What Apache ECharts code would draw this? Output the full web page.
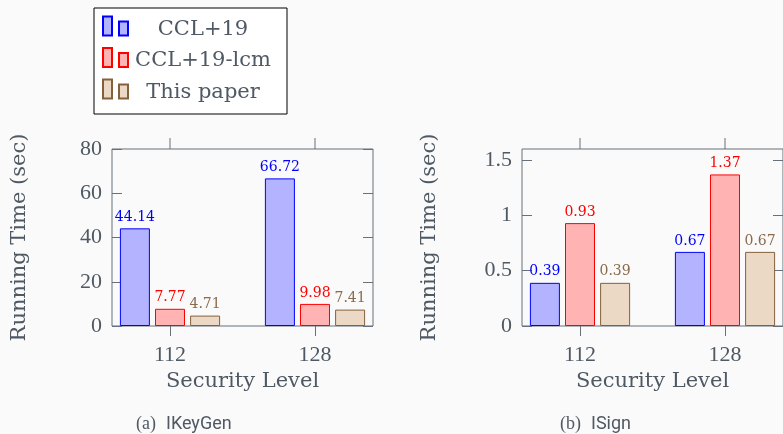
<!DOCTYPE html>
<html>
<head>
<meta charset="utf-8">
<script src="https://cdn.jsdelivr.net/npm/echarts@6/dist/echarts.min.js"></script>
<style>
  html, body { margin: 0; padding: 0; background: #fafafa; }
  #main { width: 783px; height: 434px; }
</style>
</head>
<body>
<div id="main"></div>
<script>
// security levels on the x axis
var levels = ['112', '128']
var seriesNames = ['CCL+19', 'CCL+19-lcm', 'This paper']

// IKeyGen running times (sec)
var keygenCCL = [44.14, 66.72]
var keygenLcm = [7.77, 9.98]
var keygenOurs = [4.71, 7.41]
var keygenTicks = [0, 20, 40, 60, 80]
var keygenMax = 80

// ISign running times (sec)
var signCCL = [0.39, 0.67]
var signLcm = [0.93, 1.37]
var signOurs = [0.39, 0.67]
var signTicks = [0, 0.5, 1, 1.5]
var signMax = 1.6

var textColor = '#4f5964'
var frameColor = '#66717b'
var fills = ['#b3b3ff', '#ffb3b3', '#ebd9c5']
var borders = ['#0000ff', '#ff0000', '#85603c']
var labelColors = ['#0000ff', '#ff0000', '#8a6a4a']

var chart = echarts.init(document.getElementById('main'))

function pairs(vals) {
    return vals.map(function (v, i) { return [i, v] })
}

function xAxis(g) {
    return {
        gridIndex: g, type: 'value', min: -0.4, max: 1.4, position: 'bottom',
        axisLine: { show: false, onZero: false }, splitLine: { show: false },
        axisTick: { show: true, length: 10, customValues: [0, 1], lineStyle: { color: frameColor, width: 1 } },
        axisLabel: {
            customValues: [0, 1], margin: 18,
            formatter: function (v) { return levels[Math.round(v)] },
            fontFamily: 'Liberation Serif', fontSize: 22, color: textColor,
        },
        name: 'Security Level', nameLocation: 'middle', nameGap: 45,
        nameTextStyle: { fontFamily: 'DejaVu Serif', fontSize: 21, color: textColor },
    }
}

function yAxes(g, max, ticks) {
    var ls = { color: frameColor, width: 1 }
    return [
        {
            gridIndex: g, type: 'value', min: 0, max: max, position: 'left',
            axisLine: { show: false, onZero: false }, splitLine: { show: false },
            axisTick: { show: true, inside: true, length: 10, customValues: ticks, lineStyle: ls },
            axisLabel: {
                customValues: ticks, margin: 10,
                fontFamily: 'Liberation Serif', fontSize: 22, color: textColor,
            },
            name: 'Running Time (sec)', nameLocation: 'middle', nameGap: 82, nameRotate: 90,
            nameTextStyle: { fontFamily: 'DejaVu Serif', fontSize: 21, color: textColor },
        },
        {
            gridIndex: g, type: 'value', min: 0, max: max, position: 'right',
            axisLine: { show: false, onZero: false }, splitLine: { show: false },
            axisTick: { show: true, inside: true, length: 10, customValues: ticks, lineStyle: ls },
            axisLabel: { show: false },
        },
    ]
}

function bars(g, lists) {
    return lists.map(function (vals, k) {
        return {
            name: seriesNames[k],
            type: 'bar',
            xAxisIndex: g,
            yAxisIndex: 2 * g,
            barWidth: 30,
            barGap: '17%',
            data: pairs(vals),
            itemStyle: { color: fills[k], borderColor: borders[k], borderWidth: 1 },
            label: {
                show: true, position: 'top', distance: 4,
                formatter: function (p) { return p.value[1].toFixed(2) },
                color: labelColors[k], fontFamily: 'DejaVu Serif', fontSize: 14,
            },
        }
    })
}

// mirrored x ticks sticking out above the frame
function topTicks(g, max) {
    return {
        type: 'custom',
        xAxisIndex: g,
        yAxisIndex: 2 * g,
        silent: true,
        clip: false,
        data: levels.map(function (_, i) { return [i, max] }),
        renderItem: function (params, api) {
            var p = api.coord([api.value(0), api.value(1)])
            return {
                type: 'line',
                shape: { x1: p[0], y1: p[1] - 11, x2: p[0], y2: p[1] },
                style: { stroke: frameColor, lineWidth: 1 },
            }
        },
    }
}

var captionRich = {
    s: { fontFamily: 'Liberation Serif', fontSize: 18, fontWeight: 'normal', color: textColor },
    r: { fontFamily: 'Roboto', fontSize: 18, fontWeight: 'normal', color: textColor },
}

let option = {
    backgroundColor: '#fafafa',
    animation: false,
    title: [
        { text: '{s|(a)}  {r|IKeyGen}', left: 131, top: 410, textStyle: { fontWeight: 'normal', rich: captionRich } },
        { text: '{s|(b)}  {r|ISign}', left: 555, top: 410, textStyle: { fontWeight: 'normal', rich: captionRich } },
    ],
    legend: {
        orient: 'vertical',
        left: 94,
        top: 8,
        padding: [4, 14, 11, 8],
        itemGap: 3.5,
        itemWidth: 25,
        itemHeight: 19,
        icon: 'path://M0,0h9v19h-9z M16,5h9v14h-9z',
        data: seriesNames,
        backgroundColor: '#ffffff',
        borderColor: '#000000',
        borderWidth: 1,
        formatter: function (n) { return '{a|' + n + '}' },
        textStyle: {
            rich: {
                a: { width: 140, align: 'center', fontFamily: 'DejaVu Serif', fontSize: 21, color: textColor, lineHeight: 20, padding: [7, 0, 0, 0] },
            },
        },
    },
    grid: [
        { left: 112, top: 149, width: 261, height: 177, show: true, borderColor: frameColor, borderWidth: 1, backgroundColor: 'transparent' },
        { left: 522, top: 149, width: 262, height: 177, show: true, borderColor: frameColor, borderWidth: 1, backgroundColor: 'transparent' },
    ],
    xAxis: [xAxis(0), xAxis(1)],
    yAxis: yAxes(0, keygenMax, keygenTicks).concat(yAxes(1, signMax, signTicks)),
    series: bars(0, [keygenCCL, keygenLcm, keygenOurs])
        .concat(bars(1, [signCCL, signLcm, signOurs]))
        .concat([topTicks(0, keygenMax), topTicks(1, signMax)]),
}
chart.setOption(option)
</script>
</body>
</html>
